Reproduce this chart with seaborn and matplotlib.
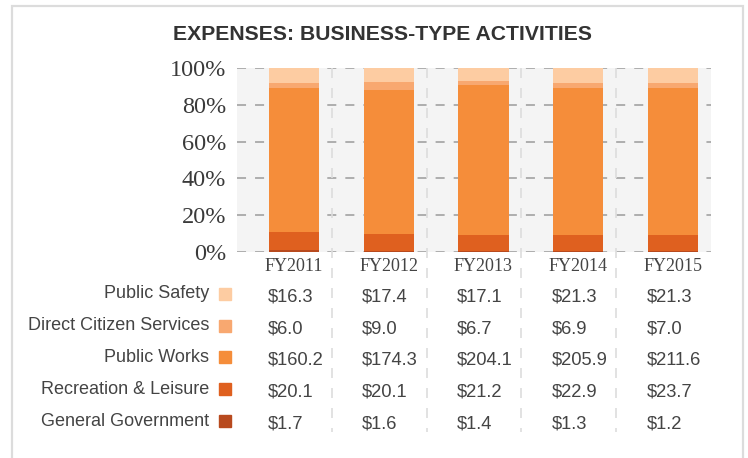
import pandas as pd
import seaborn as sns
import matplotlib.pyplot as plt
import matplotlib.transforms as mtransforms
from matplotlib.patches import Rectangle
from matplotlib.ticker import PercentFormatter

years = ["FY2011", "FY2012", "FY2013", "FY2014", "FY2015"]

# expenses in $ millions, bottom of the stack first
general_gov = [1.7, 1.6, 1.4, 1.3, 1.2]
recreation = [20.1, 20.1, 21.2, 22.9, 23.7]
public_works = [160.2, 174.3, 204.1, 205.9, 211.6]
direct_citizen = [6.0, 9.0, 6.7, 6.9, 7.0]
public_safety = [16.3, 17.4, 17.1, 21.3, 21.3]

series = ["General Government", "Recreation & Leisure", "Public Works",
          "Direct Citizen Services", "Public Safety"]
colors = ["#B84A1E", "#DF601F", "#F58D3A", "#F8A870", "#FDCCA2"]

W, H = 748, 458


def fy(px):
    # pixel row (from top) -> figure fraction
    return 1 - px / H


df = pd.DataFrame({
    "General Government": general_gov,
    "Recreation & Leisure": recreation,
    "Public Works": public_works,
    "Direct Citizen Services": direct_citizen,
    "Public Safety": public_safety,
}, index=years)
share = df.div(df.sum(axis=1), axis=0)
cum = share.cumsum(axis=1)

sns.set_style("white", {"axes.facecolor": "#F4F4F4"})
fig = plt.figure(figsize=(W / 100, H / 100), dpi=100)
ax = fig.add_axes([237 / W, fy(252), 474 / W, 184 / H])

# draw the tallest cumulative bar first, smaller ones on top
for name, col in reversed(list(zip(series, colors))):
    sns.barplot(x=years, y=cum[name].values, color=col, saturation=1,
                width=0.53, linewidth=0, ax=ax, zorder=3)

ax.set_xlim(-0.6, 4.4)
ax.set_ylim(0, 1)
ax.yaxis.set_major_formatter(PercentFormatter(1.0, decimals=0))
ax.set_yticks([0, 0.2, 0.4, 0.6, 0.8, 1.0])
for sp in ax.spines.values():
    sp.set_visible(False)
ax.tick_params(axis="y", length=0, pad=8, labelsize=17.5, labelcolor="#3a3a3a")
ax.tick_params(axis="x", length=0, pad=4, labelsize=13, labelcolor="#444444")
for lab in ax.get_xticklabels() + ax.get_yticklabels():
    lab.set_family("Liberation Serif")

# dashed horizontal grid
for yv in ax.get_yticks():
    ax.axhline(yv, color="#A8A8A8", lw=1.3, ls=(0, (5, 5)), zorder=1)

# light dashed column separators running down through the table
sep = mtransforms.blended_transform_factory(ax.transData, fig.transFigure)
for i in range(len(years) - 1):
    ax.plot([i + 0.4, i + 0.4], [fy(68), fy(432)], transform=sep,
            color="#DDDDDD", lw=1.2, ls=(0, (6, 6)), clip_on=False, zorder=1)

ax.set_xlabel("")
ax.set_ylabel("")

fig.text(382 / W, fy(35), "EXPENSES: BUSINESS-TYPE ACTIVITIES", ha="center",
         va="center", fontsize=15.2, fontweight="bold", color="#333333",
         family="Liberation Sans")

# table below the chart, top row first
row_y = [294, 326, 357, 389, 421]
for r, (name, col) in enumerate(zip(reversed(series), reversed(colors))):
    y = row_y[r]
    fig.text(209 / W, fy(y), name, ha="right", va="center", fontsize=13,
             color="#444444", family="Liberation Sans")
    fig.patches.append(Rectangle((219 / W, fy(y + 6)), 12 / W, 12 / H,
                                 transform=fig.transFigure, color=col))
    for i, v in enumerate(df[name].values):
        ax.text(i - 0.28, fy(y + 3), f"${v:.1f}", transform=sep, ha="left",
                va="center", fontsize=13.2, color="#444444",
                family="Liberation Sans")

# outer frame
fig.patches.append(Rectangle((12 / W, -0.1), 731 / W, fy(6) + 0.1,
                             transform=fig.transFigure, fill=False,
                             edgecolor="#DCDCDC", lw=1.6))

fig.savefig("out.png", dpi=100)
